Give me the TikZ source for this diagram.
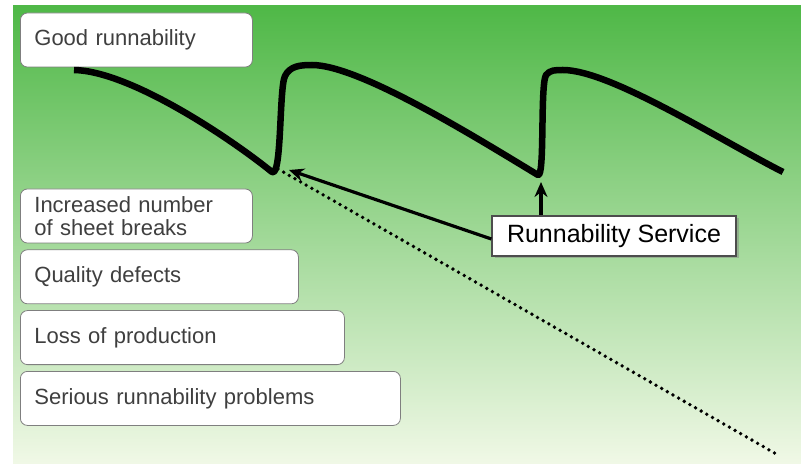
\documentclass[tikz,border=0pt]{standalone}
\usepackage{xcolor}
\usepackage{tikz}
\usepackage{fontspec}
\setmainfont{Liberation Sans}
\usetikzlibrary{arrows.meta, positioning, shadows}
\definecolor{fieldtop}{HTML}{4FB847}
\definecolor{fieldmid}{HTML}{C9E8B2}
\definecolor{fieldbottom}{HTML}{F0F8E6}
\definecolor{boxedge}{HTML}{7F7F7F}
\definecolor{boxtext}{HTML}{3F3F3F}
\definecolor{serviceedge}{HTML}{4D4D4D}

\begin{document}
\begin{tikzpicture}[x=1pt, y=-1pt, font=\fontsize{22}{23.5}\selectfont]
    \tikzstyle{state} = [rectangle, rounded corners=7pt, draw=boxedge, line width=0.8pt, fill=white,
      text=boxtext, align=left, minimum height=54pt, inner xsep=14pt, inner ysep=2pt, anchor=west]
    \tikzstyle{service} = [rectangle, draw=serviceedge, line width=1.2pt, fill=white, text=black,
      minimum width=244pt, minimum height=40pt, inner sep=0pt, font=\fontsize{25}{27}\selectfont,
      drop shadow={shadow xshift=2.5pt, shadow yshift=-2.5pt, opacity=0.45}]
    \tikzstyle{pointer} = [-{Stealth[length=15pt, width=13pt]}, line width=3.2pt]

    \useasboundingbox (0,0) rectangle (801,465);
    \shade [top color=fieldtop, middle color=fieldmid, bottom color=fieldbottom] (13,6) rectangle (801,463);

    % left column of states
    \node (good)    [state, text width=204pt] at (20,40) {Good runnability};
    \node (breaks)  [state, text width=204pt] at (20,216) {Increased number\\of sheet breaks};
    \node (quality) [state, text width=250pt, below right=6pt and 0pt of breaks.south west, anchor=north west] {Quality defects};
    \node (loss)    [state, text width=296pt, below right=6pt and 0pt of quality.south west, anchor=north west] {Loss of production};
    \node (serious) [state, text width=352pt, below right=6pt and 0pt of loss.south west, anchor=north west] {Serious runnability problems};

    % points on the runnability curve
    \coordinate (start) at (74,70);
    \coordinate (dipA)  at (272,172);
    \coordinate (riseA) at (285,76);
    \coordinate (peakA) at (312,65);
    \coordinate (dipB)  at (538,175);
    \coordinate (riseB) at (546,75);
    \coordinate (peakB) at (563,70);
    \coordinate (stop)  at (783,172);
    \coordinate (trend) at (778,455);

    \draw [line width=6.5pt, line join=round] (start) .. controls (130,71) and (230,138) .. (dipA)
      .. controls (282,178) and (279,88) .. (riseA)
      .. controls (290,66) and (300,65) .. (peakA)
      .. controls (360,65) and (480,140) .. (dipB)
      .. controls (545,178) and (540,86) .. (riseB)
      .. controls (550,70) and (555,70) .. (peakB)
      .. controls (610,70) and (720,140) .. (stop);

    \draw [line width=3.8pt, line cap=round, dash pattern=on 0pt off 6.5pt] ([xshift=6pt, yshift=3pt]dipA) -- (trend);

    \node (help) [service] at (614,236) {Runnability Service};

    \coordinate (tipA) at (289,170);
    \coordinate (tipB) at (541,182);
    \draw [pointer] ([yshift=-3pt]help.west) -- (tipA);
    \draw [pointer] (tipB |- help.north) -- (tipB);
\end{tikzpicture}
\end{document}
